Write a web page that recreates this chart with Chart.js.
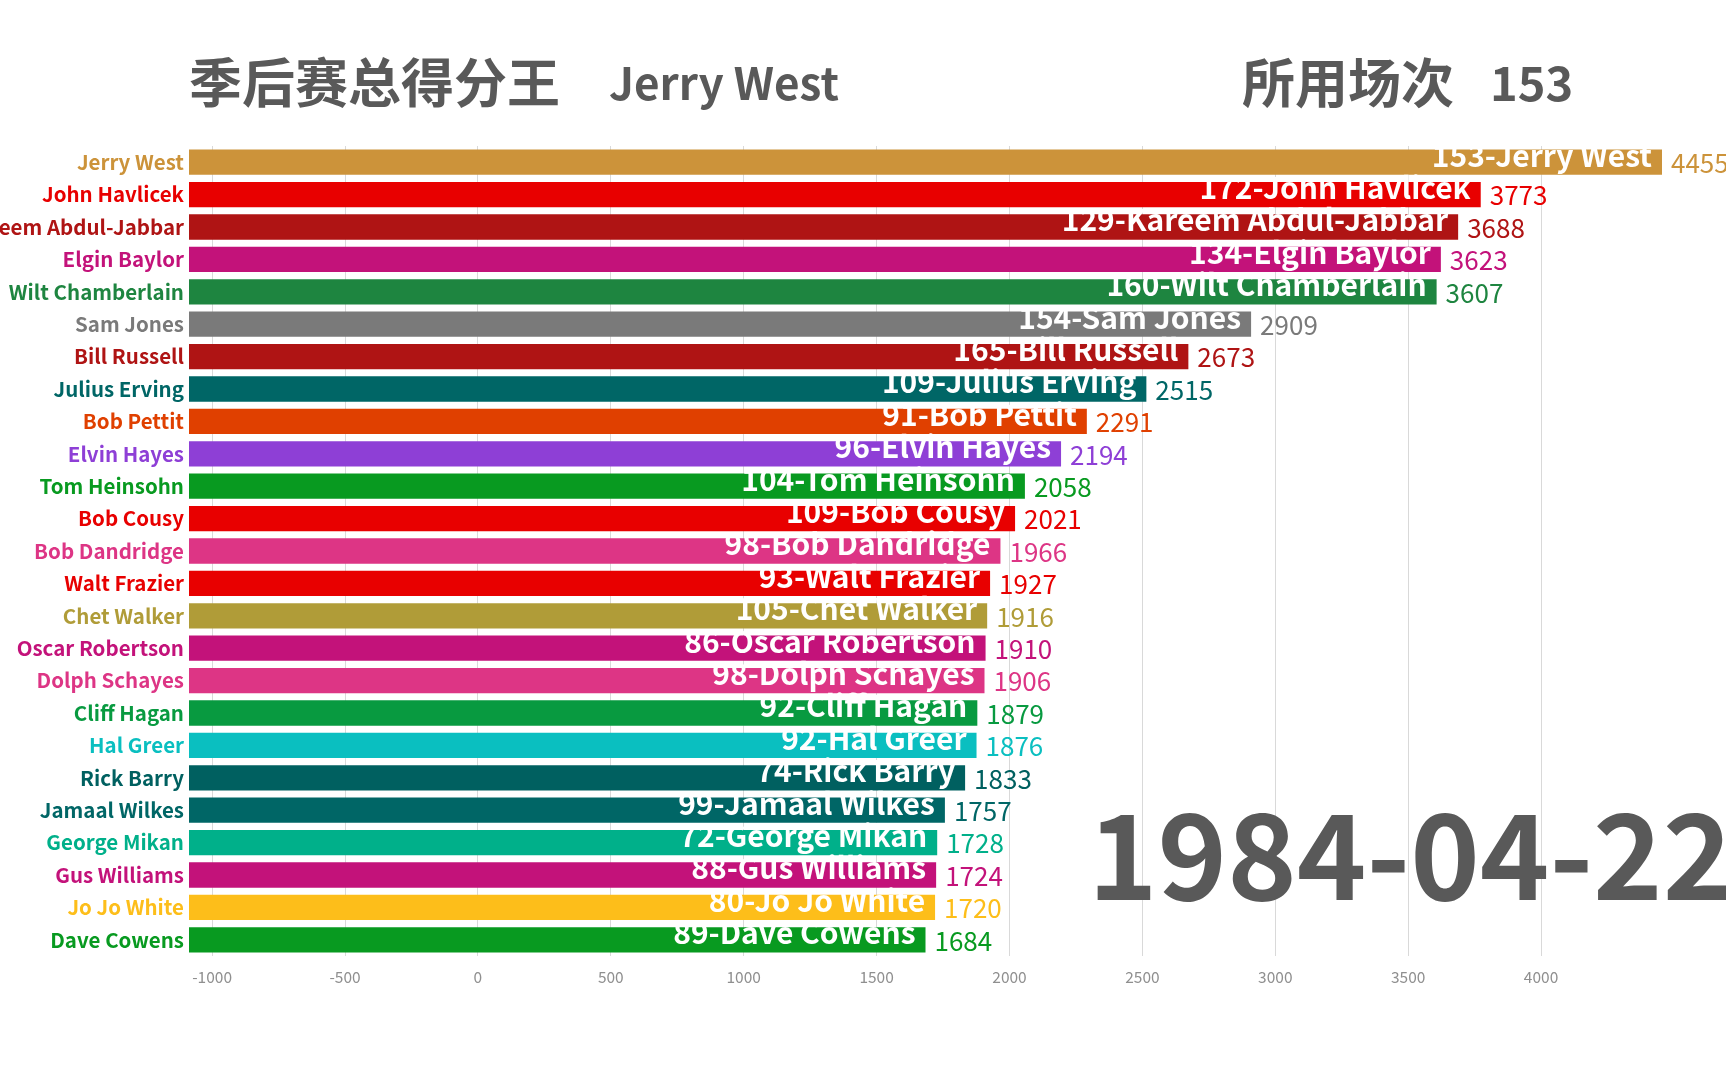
<!DOCTYPE html>
<html>
<head>
<meta charset="utf-8">
<script src="https://cdn.jsdelivr.net/npm/chart.js@4"></script>
<style>
  html, body { margin: 0; padding: 0; background: #fff; overflow: hidden; }
  #wrap { width: 1726px; height: 1079px; }
</style>
</head>
<body>
<div id="wrap"><canvas id="myChart"></canvas></div>
<script>
// playoff points leaders, snapshot of 1984-04-22
const players = ['Jerry West', 'John Havlicek', 'Kareem Abdul-Jabbar', 'Elgin Baylor', 'Wilt Chamberlain',
  'Sam Jones', 'Bill Russell', 'Julius Erving', 'Bob Pettit', 'Elvin Hayes', 'Tom Heinsohn', 'Bob Cousy',
  'Bob Dandridge', 'Walt Frazier', 'Chet Walker', 'Oscar Robertson', 'Dolph Schayes', 'Cliff Hagan',
  'Hal Greer', 'Rick Barry', 'Jamaal Wilkes', 'George Mikan', 'Gus Williams', 'Jo Jo White', 'Dave Cowens'];
const games = [153, 172, 129, 134, 160, 154, 165, 109, 91, 96, 104, 109, 98, 93, 105, 86, 98, 92, 92, 74, 99, 72, 88, 80, 89];
const points = [4455, 3773, 3688, 3623, 3607, 2909, 2673, 2515, 2291, 2194, 2058, 2021, 1966, 1927, 1916, 1910,
  1906, 1879, 1876, 1833, 1757, 1728, 1724, 1720, 1684];
const colors = ['#CC933A', '#E80000', '#AF1414', '#C3127A', '#1E8540', '#7A7A7A', '#AF1414', '#006666',
  '#E04000', '#8E3FD6', '#089A20', '#E80000', '#DD3585', '#E80000', '#B09C38', '#C3127A', '#DD3585',
  '#089A40', '#0ABFC0', '#006060', '#006666', '#00B08A', '#C3127A', '#FDBE1A', '#089A20'];
const xTicks = [-1000, -500, 0, 500, 1000, 1500, 2000, 2500, 3000, 3500, 4000];

const leader = 'Jerry West';
const leaderGames = 153;
const dateText = '1984-04-22';

const xMin = -1087;
const xMax = 4455;

const FONT = "'Noto Sans CJK SC', 'Noto Sans', sans-serif";
Chart.defaults.font.family = FONT;

// number of games + name inside the bar, total points after it
const barLabels = {
  id: 'barLabels',
  afterDatasetsDraw(chart) {
    const ctx = chart.ctx;
    const meta = chart.getDatasetMeta(0);
    ctx.save();
    ctx.textBaseline = 'middle';
    meta.data.forEach((bar, i) => {
      ctx.font = 'bold 30px ' + FONT;
      ctx.fillStyle = '#ffffff';
      ctx.textAlign = 'right';
      ctx.fillText(games[i] + '-' + players[i], bar.x - 10, bar.y - 7);
      ctx.font = '26px ' + FONT;
      ctx.fillStyle = colors[i];
      ctx.textAlign = 'left';
      ctx.fillText(points[i], bar.x + 9, bar.y + 1);
    });
    ctx.restore();
  }
};

// headline and the big date
const headline = {
  id: 'headline',
  afterDraw(chart) {
    const ctx = chart.ctx;
    ctx.save();
    ctx.fillStyle = '#595959';
    ctx.textAlign = 'left';
    ctx.textBaseline = 'middle';
    ctx.font = 'bold 53px ' + FONT;
    ctx.fillText('季后赛总得分王', 189, 83);
    ctx.fillText('所用场次', 1242, 83);
    ctx.textBaseline = 'alphabetic';
    ctx.font = 'bold 44px ' + FONT;
    ctx.fillText(leader, 609, 100);
    ctx.font = 'bold 47px ' + FONT;
    ctx.fillText(leaderGames, 1490, 101);
    ctx.font = 'bold 118px ' + FONT;
    ctx.fillText(dateText, 1088, 900);
    ctx.restore();
  }
};

let myChart = new Chart(document.getElementById('myChart'), {
  type: 'bar',
  data: {
    labels: players,
    datasets: [{
      data: points,
      backgroundColor: colors,
      base: xMin,
      barPercentage: 0.78,
      categoryPercentage: 1
    }]
  },
  options: {
    indexAxis: 'y',
    responsive: true,
    maintainAspectRatio: false,
    animation: false,
    layout: { padding: { left: 0, top: 146, right: 64, bottom: 83 } },
    plugins: {
      legend: { display: false },
      tooltip: { enabled: false }
    },
    scales: {
      x: {
        min: xMin,
        max: xMax,
        afterBuildTicks: scale => { scale.ticks = xTicks.map(v => ({ value: v })); },
        afterFit: scale => { scale.height = 40; },
        grid: { color: '#d9d9d9', drawTicks: false },
        border: { display: false },
        ticks: {
          color: '#8f8f8f',
          font: { size: 15.5 },
          padding: 12,
          autoSkip: false,
          maxRotation: 0,
          callback: v => String(v)
        }
      },
      y: {
        afterFit: scale => { scale.width = 189; },
        grid: { display: false, drawTicks: false },
        border: { display: false },
        ticks: {
          color: c => colors[c.index],
          font: { size: 20.5, weight: 'bold' },
          padding: 5,
          autoSkip: false
        }
      }
    }
  },
  plugins: [barLabels, headline]
});
</script>
</body>
</html>
